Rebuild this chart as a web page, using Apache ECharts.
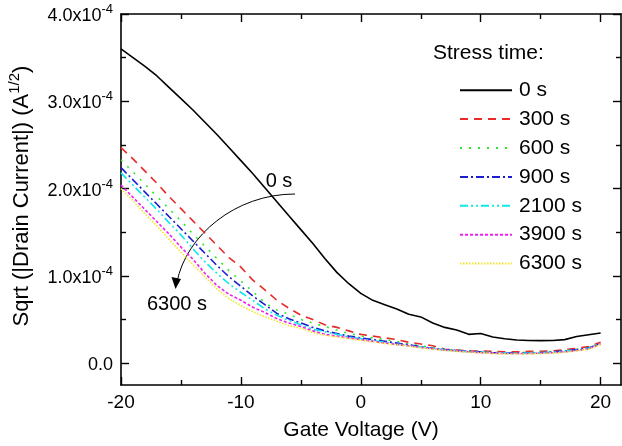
<!DOCTYPE html>
<html><head><meta charset="utf-8">
<script src="https://cdn.jsdelivr.net/npm/echarts@6/dist/echarts.min.js"></script>
<style>html,body{margin:0;padding:0;background:#fff}#c{width:622px;height:446px}</style>
</head><body><div id="c"></div>
<script>
// Gate voltage (V)
var gateVoltage = [-20,-19,-18,-17,-16,-15,-14,-13,-12,-11,-10,-9,-8,-7,-6,-5,-4,-3,-2,-1,0,1,2,3,4,5,6,7,8,9,10,11,12,13,14,15,16,17,18,19,20];
// Sqrt(|Id|) in units of 1e-4 A^1/2
var s0 = [3.60,3.50,3.40,3.29,3.16,3.03,2.90,2.76,2.62,2.47,2.32,2.17,2.01,1.85,1.69,1.53,1.37,1.20,1.04,0.91,0.80,0.72,0.67,0.62,0.56,0.53,0.46,0.41,0.38,0.33,0.34,0.30,0.28,0.265,0.26,0.258,0.26,0.27,0.305,0.325,0.345];
var s300 = [2.47,2.34,2.20,2.06,1.91,1.77,1.63,1.49,1.35,1.21,1.10,0.95,0.84,0.72,0.63,0.55,0.50,0.44,0.41,0.37,0.33,0.31,0.29,0.27,0.24,0.22,0.20,0.16,0.15,0.14,0.14,0.135,0.13,0.13,0.135,0.135,0.14,0.155,0.17,0.19,0.24];
var s600 = [2.33,2.19,2.05,1.91,1.77,1.63,1.48,1.34,1.20,1.06,0.94,0.82,0.69,0.61,0.56,0.50,0.46,0.42,0.38,0.34,0.31,0.29,0.27,0.25,0.22,0.20,0.18,0.16,0.15,0.14,0.13,0.125,0.12,0.12,0.125,0.125,0.13,0.145,0.16,0.18,0.23];
var s900 = [2.24,2.10,1.96,1.82,1.68,1.54,1.40,1.26,1.12,0.99,0.88,0.77,0.67,0.57,0.51,0.46,0.41,0.37,0.34,0.31,0.29,0.27,0.25,0.23,0.21,0.19,0.17,0.155,0.145,0.135,0.13,0.12,0.115,0.115,0.12,0.12,0.13,0.14,0.155,0.175,0.225];
var s2100 = [2.18,2.04,1.90,1.76,1.61,1.47,1.31,1.16,1.03,0.91,0.81,0.72,0.62,0.55,0.49,0.44,0.39,0.36,0.33,0.30,0.28,0.26,0.24,0.22,0.20,0.185,0.17,0.15,0.14,0.13,0.125,0.12,0.115,0.11,0.115,0.12,0.125,0.135,0.15,0.17,0.22];
var s3900 = [2.04,1.90,1.76,1.62,1.48,1.33,1.19,1.03,0.89,0.79,0.72,0.64,0.58,0.51,0.46,0.42,0.37,0.33,0.31,0.29,0.27,0.25,0.23,0.215,0.20,0.18,0.165,0.15,0.14,0.13,0.12,0.115,0.11,0.11,0.11,0.115,0.12,0.13,0.145,0.165,0.22];
var s6300 = [2.00,1.86,1.71,1.57,1.42,1.27,1.13,0.99,0.85,0.74,0.66,0.59,0.53,0.48,0.43,0.40,0.35,0.32,0.30,0.28,0.26,0.245,0.225,0.21,0.195,0.175,0.16,0.145,0.135,0.125,0.12,0.11,0.105,0.105,0.105,0.11,0.115,0.125,0.14,0.16,0.21];
var seriesNames = ['0 s','300 s','600 s','900 s','2100 s','3900 s','6300 s'];
var xTicks = [-20,-10,0,10,20];
var xMinor = [-15,-5,5,15];
var yTicks = [0,1,2,3,4];
var yMinor = [0.5,1.5,2.5,3.5];

var allSeries = [s0,s300,s600,s900,s2100,s3900,s6300];
var colors = ['#000000','#e82a2a','#2ee82e','#1c1cd0','#10e8e8','#f020f0','#f2e62a'];
var dashes = ['solid',[8,6],[2,7],[8,3,2,3],[8,3,2,3,2,3],[3,2],[1.5,1.5]];
var FONT = 'Liberation Sans, Arial, sans-serif';

function pairs(arr){ return arr.map(function(v,i){ return [gateVoltage[i], v]; }); }

var chart = echarts.init(document.getElementById('c'), null, {renderer:'canvas'});
var grid = {left:121, right:1, top:14, bottom:61};
var axLine = {show:true, onZero:false, lineStyle:{color:'#000', width:1.6}};
function xAx(pos, vals, len, labels, line){
  return {type:'value', position:pos, min:-20, max:21.7, gridIndex:0,
    axisLine: line ? axLine : {show:false, onZero:false},
    splitLine:{show:false},
    axisTick:{show:true, inside:true, length:len, customValues:vals, lineStyle:{color:'#000', width:1.4}},
    axisLabel: labels ? {show:true, customValues:vals, margin:8, color:'#000', fontSize:19, fontFamily:FONT} : {show:false}
  };
}
function yAx(pos, vals, len, labels, line){
  return {type:'value', position:pos, min:-0.25, max:4, gridIndex:0,
    axisLine: line ? axLine : {show:false, onZero:false},
    splitLine:{show:false},
    axisTick:{show:true, inside:true, length:len, customValues:vals, lineStyle:{color:'#000', width:1.4}},
    axisLabel: labels ? {show:true, customValues:vals, margin:8, color:'#000', fontFamily:FONT, fontSize:18,
      formatter:function(v){ if (Math.abs(v)<1e-9) return '{b|0.0}'; return '{b|'+v.toFixed(1)+'x10}{s|-4}'; },
      rich:{b:{fontSize:18, fontFamily:FONT, color:'#000', lineHeight:22, verticalAlign:'bottom'},
            s:{fontSize:13, fontFamily:FONT, color:'#000', lineHeight:22, verticalAlign:'top', padding:[0,0,10,0]}}
    } : {show:false}
  };
}

var series = allSeries.map(function(arr, i){
  return {name:seriesNames[i], type:'line', xAxisIndex:0, yAxisIndex:0, data:pairs(arr),
    symbol:'none', smooth:false, animation:false,
    lineStyle:{color:colors[i], width:1.6, type:dashes[i]}, itemStyle:{color:colors[i]}};
});

var option = {
  backgroundColor:'#fff',
  animation:false,
  grid:grid,
  xAxis:[xAx('bottom', xTicks, 8, true, true), xAx('bottom', xMinor, 5, false, false),
         xAx('top', xTicks, 8, false, true), xAx('top', xMinor, 5, false, false)],
  yAxis:[yAx('left', yTicks, 8, true, true), yAx('left', yMinor, 5, false, false),
         yAx('right', yTicks, 8, false, true), yAx('right', yMinor, 5, false, false)],
  legend:{show:true, orient:'vertical', left:459, top:76, padding:0, itemWidth:52, itemHeight:14, itemGap:0.5,
    itemStyle:{opacity:0},
    textStyle:{fontSize:21, fontFamily:FONT, color:'#000', lineHeight:28.4, padding:[0,0,0,2]},
    data:seriesNames},
  series:series,
  graphic:[
    {type:'text', left:433, top:43, style:{text:'Stress time:', font:'21px '+FONT, fill:'#000'}},
    {type:'text', x:279, y:181, style:{text:'0 s', font:'20px '+FONT, fill:'#000', align:'center', verticalAlign:'middle'}},
    {type:'text', x:177, y:304, style:{text:'6300 s', font:'20px '+FONT, fill:'#000', align:'center', verticalAlign:'middle'}},
    {type:'bezierCurve', shape:{x1:295, y1:194, cpx1:235, cpy1:194, cpx2:186, cpy2:236, x2:177, y2:282},
      style:{stroke:'#000', lineWidth:1, fill:null}},
    {type:'polygon', shape:{points:[[175.5,289],[171.5,277],[181,279]]}, style:{fill:'#000'}},
    {type:'text', x:20, y:196, rotation:Math.PI/2,
      style:{text:'{n|Sqrt (|Drain Current|) (A}{s|1/2}{n|)}', align:'center', verticalAlign:'middle',
        rich:{n:{fontSize:22, fontFamily:FONT, fill:'#000', lineHeight:26, verticalAlign:'bottom'},
              s:{fontSize:15, fontFamily:FONT, fill:'#000', lineHeight:26, verticalAlign:'top', padding:[0,0,11,0]}}}},
    {type:'text', x:361, y:430, style:{text:'Gate Voltage (V)', font:'21px '+FONT, fill:'#000', align:'center', verticalAlign:'middle'}}
  ]
};
chart.setOption(option);
</script>
</body></html>
